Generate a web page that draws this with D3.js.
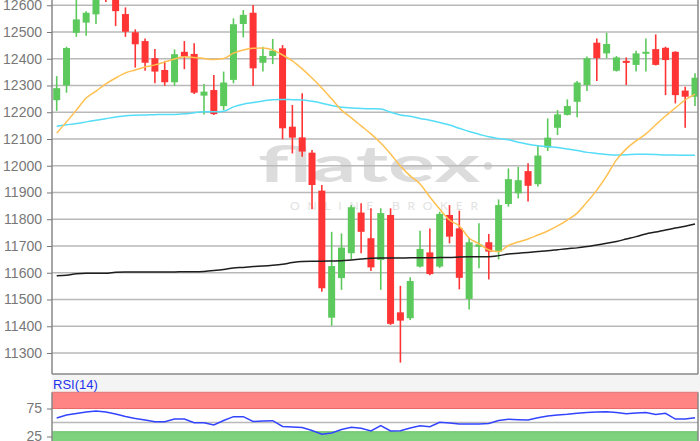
<!DOCTYPE html>
<html>
<head>
<meta charset="utf-8">
<script src="https://cdn.jsdelivr.net/npm/d3@7/dist/d3.min.js"></script>
<style>
html,body{margin:0;padding:0;background:#fff;}
svg{display:block;}
</style>
</head>
<body>
<svg id="chart" width="700" height="441"></svg>
<script>
// ---------- DATA ----------
const open  = [12245,12300,12497,12535,12566,12660,12640,12567,12499,12466,12402,12358,12312,12426,12418,12262,12283,12223,12321,12530,12572,12385,12410,12439,12146,12106,12049,11907,11432,11580,11673,11825,11729,11648,11816,11452,11430,11623,11676,11623,11816,11766,11502,11697,11714,11679,11857,11897,11980,11931,12068,12142,12190,12239,12302,12460,12420,12355,12392,12377,12421,12436,12441,12426,12281,12258];
const high  = [12335,12445,12625,12578,12650,12680,12660,12592,12510,12476,12436,12392,12435,12466,12458,12306,12339,12352,12551,12582,12601,12445,12474,12451,12227,12271,12059,11928,11753,11747,11853,11860,11841,11841,11841,11551,11583,11757,11765,11828,11853,11832,11730,11785,11745,11874,11990,11996,12009,12075,12177,12208,12248,12317,12408,12476,12497,12410,12405,12430,12476,12491,12445,12428,12295,12346];
const low   = [12205,12273,12482,12486,12530,12612,12522,12482,12367,12355,12308,12299,12299,12361,12268,12192,12190,12208,12308,12480,12298,12352,12380,12099,12046,12034,11837,11529,11402,11536,11650,11673,11607,11536,11405,11264,11423,11620,11591,11618,11710,11538,11463,11617,11575,11650,11847,11878,11866,11922,12055,12115,12188,12181,12279,12317,12402,12352,12302,12352,12352,12375,12264,12233,12142,12223];
const close = [12290,12440,12547,12572,12635,12630,12578,12501,12454,12385,12352,12312,12417,12408,12273,12277,12193,12311,12529,12564,12364,12410,12430,12140,12105,12053,11928,11542,11625,11694,11845,11753,11620,11823,11409,11421,11569,11689,11595,11820,11735,11581,11714,11706,11679,11853,11950,11946,11925,12038,12105,12192,12223,12311,12402,12402,12455,12405,12387,12420,12426,12377,12395,12264,12258,12329];

const ma20  = [12122,12164,12208,12253,12279,12306,12328,12347,12358,12369,12377,12388,12399,12407,12405,12401,12397,12401,12421,12433,12439,12440,12433,12414,12392,12362,12328,12291,12250,12208,12179,12149,12119,12085,12044,11999,11962,11932,11883,11838,11797,11775,11730,11708,11685,11679,11702,11715,11726,11741,11756,11775,11797,11823,11864,11909,11962,12022,12063,12093,12119,12153,12186,12216,12246,12268];
const ma50  = [12148,12153,12158,12164,12170,12176,12182,12187,12189,12190,12191,12192,12192,12194,12198,12202,12202,12204,12220,12230,12236,12242,12247,12248,12247,12246,12241,12234,12225,12219,12216,12214,12213,12212,12200,12190,12185,12177,12170,12162,12152,12140,12128,12118,12108,12102,12097,12088,12080,12075,12072,12068,12063,12057,12050,12046,12042,12040,12041,12043,12043,12042,12040,12040,12039,12039];
const ma200 = [11589,11591,11596,11598,11598,11598,11602,11603,11603,11603,11603,11603,11603,11604,11604,11605,11608,11612,11618,11620,11623,11625,11628,11632,11638,11642,11643,11643,11644,11645,11648,11651,11654,11655,11655,11655,11656,11656,11656,11657,11657,11659,11660,11660,11660,11664,11670,11673,11676,11679,11682,11686,11690,11693,11698,11704,11710,11717,11726,11735,11745,11752,11760,11767,11774,11782];
const rsi   = [58.1,63.4,66.1,68.6,70.5,68.6,65.2,60.7,57.1,54.5,51.5,51.5,56.2,56.2,49.7,49.7,45.5,53.5,60.4,60.4,51.8,52.7,53.2,42.9,41.9,41.1,35.7,29.0,31.2,37.5,41.4,39.6,34.8,44.3,34.8,35.4,40.2,44.3,42.5,50.3,49.1,47.3,47.3,47.3,48.2,53.5,55.7,55.0,54.5,58.6,61.6,63.4,64.6,66.5,67.8,68.8,69.3,67.8,65.7,67.0,67.8,64.3,66.5,56.2,56.2,58.6];

const priceTicks = [11300,11400,11500,11600,11700,11800,11900,12000,12100,12200,12300,12400,12500,12600];
const rsiTicks = [25,75];
const rsiGrid = [50];
const rsiLabel = "RSI(14)";

// ---------- LAYOUT ----------
const svg = d3.select("#chart");
const L = 52, R = 698, T = 0, B = 374;
const rT = 392.3, rB = 441;
const n = close.length;

const x = d3.scaleLinear().domain([0, n - 1]).range([56.7, 695]);
const y = d3.scaleLinear().domain([11221.5, 12619.6]).range([B, T]);
const yr = d3.scaleLinear().domain([0, 100]).range([450.5, 394.5]);

const defs = svg.append("defs");
defs.append("clipPath").attr("id","cm").append("rect").attr("x",L).attr("y",T).attr("width",R-L).attr("height",B-T);
defs.append("clipPath").attr("id","cr").append("rect").attr("x",L).attr("y",rT).attr("width",R-L).attr("height",rB-rT);

// gap strip between panels
svg.append("rect").attr("x",L).attr("y",B).attr("width",700-L).attr("height",rT-B).attr("fill","#f4f4f4");

// ---------- MAIN PANEL ----------
const main = svg.append("g").attr("clip-path","url(#cm)");

// watermark
main.append("text").attr("x",258).attr("y",182)
  .attr("textLength",222).attr("lengthAdjust","spacingAndGlyphs")
  .attr("font-family","Lato, 'Open Sans', sans-serif").attr("font-weight","700")
  .attr("font-size",50).attr("fill","#dcdcdc").text("flatex");
main.append("circle").attr("cx",488).attr("cy",166).attr("r",4).attr("fill","#dcdcdc");
main.append("text").attr("x",290).attr("y",210)
  .attr("textLength",188).attr("lengthAdjust","spacing")
  .attr("font-family","Lato, 'Open Sans', sans-serif")
  .attr("font-size",12).attr("fill","#e2e2e2").text("ONLINE BROKER");

// grid
main.append("g").selectAll("line").data(priceTicks).join("line")
  .attr("x1",L).attr("x2",R).attr("y1",d=>y(d)).attr("y2",d=>y(d))
  .attr("stroke","#b9b9b9").attr("stroke-width",1.5);

// candles
const green = "#5cc95c", red = "#ff3535";
const cg = main.append("g");
const idx = d3.range(n);
cg.selectAll("line.w").data(idx).join("line").attr("class","w")
  .attr("x1",i=>x(i)).attr("x2",i=>x(i))
  .attr("y1",i=>y(high[i])).attr("y2",i=>y(low[i]))
  .attr("stroke",i=>close[i]>=open[i]?green:red).attr("stroke-width",1.6);
const bw = 7;
cg.selectAll("rect.b").data(idx).join("rect").attr("class","b")
  .attr("x",i=>x(i)-bw/2).attr("width",bw)
  .attr("y",i=>y(Math.max(open[i],close[i])))
  .attr("height",i=>Math.max(2, Math.abs(y(open[i])-y(close[i]))))
  .attr("fill",i=>close[i]>=open[i]?green:red);

// moving averages
const lineGen = arr => d3.line().x((d,i)=>x(i)).y(d=>y(d)).curve(d3.curveMonotoneX)(arr);
main.append("path").attr("d",lineGen(ma50)).attr("fill","none").attr("stroke","#55dcf7").attr("stroke-width",1.5);
main.append("path").attr("d",lineGen(ma200)).attr("fill","none").attr("stroke","#1e1e1e").attr("stroke-width",1.5);
main.append("path").attr("d",lineGen(ma20)).attr("fill","none").attr("stroke","#ffc050").attr("stroke-width",1.5);

// borders main
svg.append("line").attr("x1",L).attr("x2",L).attr("y1",T).attr("y2",B).attr("stroke","#888").attr("stroke-width",1.5);
svg.append("line").attr("x1",L).attr("x2",R).attr("y1",B).attr("y2",B).attr("stroke","#888").attr("stroke-width",1.5);
svg.append("line").attr("x1",R).attr("x2",R).attr("y1",T).attr("y2",B).attr("stroke","#888").attr("stroke-width",1.5);

// y axis
const ay = svg.append("g").attr("transform",`translate(${L},0)`)
  .call(d3.axisLeft(y).tickValues(priceTicks).tickSize(5).tickPadding(5).tickFormat(d3.format("d")));
ay.select(".domain").remove();
ay.selectAll("line").attr("stroke","#777");
ay.selectAll("text").attr("font-family","'Liberation Sans', Arial, sans-serif").attr("font-size",14).attr("fill","#777");

// ---------- RSI PANEL ----------
const rp = svg.append("g").attr("clip-path","url(#cr)");
rp.append("rect").attr("x",L).attr("width",R-L).attr("y",rT).attr("height",yr(75)-rT).attr("fill","#ff8585");
rp.append("line").attr("x1",L).attr("x2",R).attr("y1",yr(75)).attr("y2",yr(75)).attr("stroke","#e86a6a").attr("stroke-width",1);
rp.append("rect").attr("x",L).attr("width",R-L).attr("y",yr(33.5)).attr("height",rB-yr(33.5)).attr("fill","#7ed27e");
rp.append("line").attr("x1",L).attr("x2",R).attr("y1",yr(33.5)).attr("y2",yr(33.5)).attr("stroke","#66c266").attr("stroke-width",1);
rp.selectAll("line.g").data(rsiGrid).join("line").attr("class","g")
  .attr("x1",L).attr("x2",R).attr("y1",d=>yr(d)).attr("y2",d=>yr(d)).attr("stroke","#b9b9b9").attr("stroke-width",1.5);
rp.append("path").attr("d",d3.line().x((d,i)=>x(i)).y(d=>yr(d))(rsi))
  .attr("fill","none").attr("stroke","#3344ff").attr("stroke-width",1.5);

svg.append("line").attr("x1",L).attr("x2",L).attr("y1",rT).attr("y2",rB).attr("stroke","#888").attr("stroke-width",1.5);
svg.append("line").attr("x1",R).attr("x2",R).attr("y1",rT).attr("y2",rB).attr("stroke","#888").attr("stroke-width",1.5);
svg.append("line").attr("x1",L).attr("x2",R).attr("y1",rT).attr("y2",rT).attr("stroke","#e07070").attr("stroke-width",1);

const ar = svg.append("g").attr("transform",`translate(${L},0)`)
  .call(d3.axisLeft(yr).tickValues(rsiTicks).tickSize(5).tickPadding(5));
ar.select(".domain").remove();
ar.selectAll("line").attr("stroke","#777");
ar.selectAll("text").attr("font-family","'Liberation Sans', Arial, sans-serif").attr("font-size",14).attr("fill","#777");

svg.append("text").attr("x",53).attr("y",389).attr("font-family","'Liberation Sans', Arial, sans-serif")
  .attr("font-size",13).attr("fill","#2233ee").text(rsiLabel);
</script>
</body>
</html>
